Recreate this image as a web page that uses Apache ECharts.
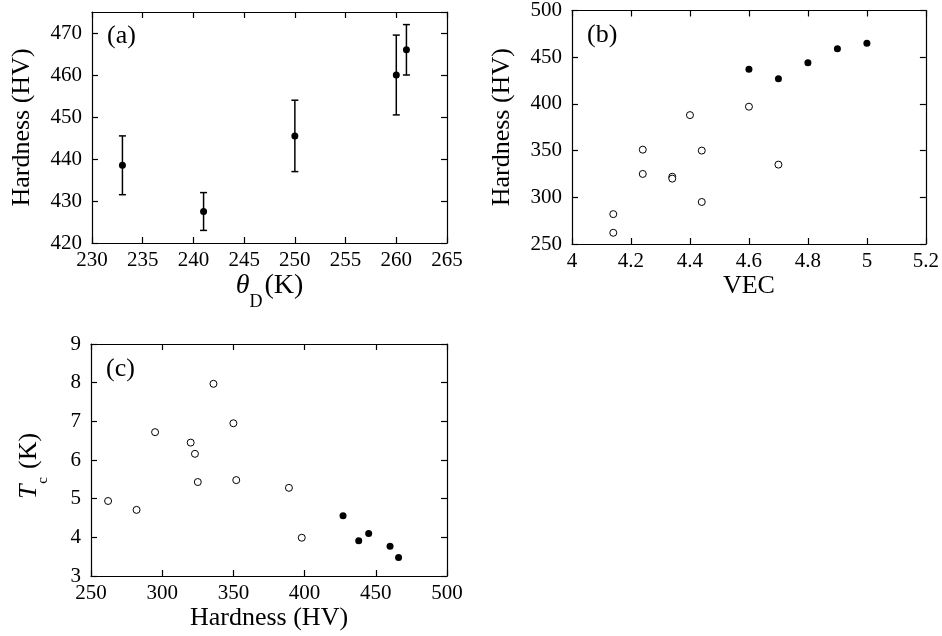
<!DOCTYPE html>
<html>
<head>
<meta charset="utf-8">
<script src="https://cdn.jsdelivr.net/npm/echarts@6.0.0/dist/echarts.min.js"></script>
<style>
  html, body { margin: 0; padding: 0; background: #fff; }
  #root { width: 942px; height: 636px; }
</style>
</head>
<body>
<div id="root"></div>
<script>
// (a) hardness vs Debye temperature, with error bars
const thetaD = [233, 241, 250, 260, 261]
const hardnessA = [438.5, 427.5, 445.5, 460, 466]
const errLow = [431.5, 423, 437, 450.5, 460]
const errHigh = [445.5, 432, 454, 469.5, 472]

// (b) hardness vs VEC
const vecOpen = [4.14, 4.14, 4.24, 4.24, 4.34, 4.34, 4.40, 4.44, 4.44, 4.60, 4.70]
const hvOpen = [282, 262, 351, 325, 322, 320, 388, 350, 295, 397, 335]
const vecFilled = [4.6, 4.7, 4.8, 4.9, 5.0]
const hvFilled = [437, 427, 444, 459, 465]

// (c) Tc vs hardness
const hvOpenC = [262, 282, 295, 320, 323, 325, 336, 350, 352, 389, 398]
const tcOpen = [4.94, 4.71, 6.72, 6.45, 6.16, 5.43, 7.97, 6.95, 5.48, 5.28, 3.99]
const hvFilledC = [427, 438, 445, 460, 466]
const tcFilled = [4.56, 3.91, 4.10, 3.77, 3.48]

const FONT = "'Liberation Serif', 'Times New Roman', serif"
const zip = (a, b) => a.map((v, i) => [v, b[i]])

const chart = echarts.init(document.getElementById('root'), null, { renderer: 'canvas' })

const frameAxis = (type, gridIndex, position, range, showLabels, extra) => {
  return Object.assign({
    type: 'value',
    gridIndex,
    position,
    min: range[0],
    max: range[1],
    interval: range[2],
    splitLine: { show: false },
    axisLine: { show: true, onZero: false, lineStyle: { color: '#000', width: 1.2 } },
    axisTick: { show: true, inside: true, length: 6, lineStyle: { color: '#000', width: 1.2 } },
    axisLabel: {
      show: showLabels,
      color: '#000',
      fontFamily: FONT,
      fontSize: 21,
      margin: type === 'x' ? 7 : 10,
      showMaxLabel: range[3] !== false
    }
  }, extra || {})
}

const grids = [
  { left: 92, top: 12, width: 355, height: 231 },
  { left: 572, top: 10, width: 355, height: 234 },
  { left: 91, top: 344, width: 356, height: 232 }
]

const xName = (text, gap, rich, size) => ({
  name: text,
  nameLocation: 'middle',
  nameGap: gap,
  nameTextStyle: { color: '#000', fontFamily: FONT, fontSize: size || 26, rich: rich || {} }
})
const yName = (text, gap, rich) => ({
  name: text,
  nameLocation: 'middle',
  nameGap: gap,
  nameRotate: 90,
  nameTextStyle: { color: '#000', fontFamily: FONT, fontSize: 26, rich: rich || {} }
})

// theta_D label: italic symbol with a low subscript
const richTheta = {
  it: { fontStyle: 'italic', fontFamily: FONT, fontSize: 28, lineHeight: 32, verticalAlign: 'top', color: '#000' },
  sub: { fontFamily: FONT, fontSize: 18, lineHeight: 18, verticalAlign: 'top', padding: [21, 0, 0, 0], color: '#000' },
  n: { fontFamily: FONT, fontSize: 28, lineHeight: 32, verticalAlign: 'top', padding: [0, 0, 0, 2], color: '#000' }
}
// T_c label
const richTc = {
  it: { fontStyle: 'italic', fontFamily: FONT, fontSize: 26, lineHeight: 30, verticalAlign: 'top', color: '#000' },
  sub: { fontFamily: FONT, fontSize: 15, lineHeight: 15, verticalAlign: 'top', padding: [20, 0, 0, 1], color: '#000' },
  n: { fontFamily: FONT, fontSize: 26, lineHeight: 30, verticalAlign: 'top', padding: [0, 12, 0, 8], color: '#000' }
}

const xAxes = [
  frameAxis('x', 0, 'bottom', [230, 265, 5], true, xName('{it|θ}{sub|D}{n|(K)}', 26, richTheta, 28)),
  frameAxis('x', 0, 'top', [230, 265, 5], false),
  frameAxis('x', 1, 'bottom', [4, 5.2, 0.2], true, xName('VEC', 26)),
  frameAxis('x', 1, 'top', [4, 5.2, 0.2], false),
  frameAxis('x', 2, 'bottom', [250, 500, 50], true, xName('Hardness (HV)', 24)),
  frameAxis('x', 2, 'top', [250, 500, 50], false)
]
xAxes[2].axisLabel.formatter = v => String(Math.round(v * 10) / 10)

const yAxes = [
  frameAxis('y', 0, 'left', [420, 475, 10, false], true, yName('Hardness (HV)', 57)),
  frameAxis('y', 0, 'right', [420, 475, 10, false], false),
  frameAxis('y', 1, 'left', [250, 500, 50], true, yName('Hardness (HV)', 57)),
  frameAxis('y', 1, 'right', [250, 500, 50], false),
  frameAxis('y', 2, 'left', [3, 9, 1], true, yName('{it|T}{sub|c}{n|(K)}', 45, richTc)),
  frameAxis('y', 2, 'right', [3, 9, 1], false)
]

const errorBars = {
  type: 'custom',
  xAxisIndex: 0,
  yAxisIndex: 0,
  data: thetaD.map((x, i) => [x, errLow[i], errHigh[i]]),
  renderItem: (params, api) => {
    const lo = api.coord([api.value(0), api.value(1)])
    const hi = api.coord([api.value(0), api.value(2)])
    const half = 3.5
    const style = { stroke: '#000', lineWidth: 1.5 }
    return {
      type: 'group',
      children: [
        { type: 'line', shape: { x1: lo[0], y1: lo[1], x2: hi[0], y2: hi[1] }, style },
        { type: 'line', shape: { x1: lo[0] - half, y1: lo[1], x2: lo[0] + half, y2: lo[1] }, style },
        { type: 'line', shape: { x1: hi[0] - half, y1: hi[1], x2: hi[0] + half, y2: hi[1] }, style }
      ]
    }
  },
  z: 2
}

const filled = (xi, yi, data) => ({
  type: 'scatter', xAxisIndex: xi, yAxisIndex: yi, data,
  symbol: 'circle', symbolSize: 7,
  itemStyle: { color: '#000', opacity: 1 }, z: 3
})
const open = (xi, yi, data) => ({
  type: 'scatter', xAxisIndex: xi, yAxisIndex: yi, data,
  symbol: 'circle', symbolSize: 7,
  itemStyle: { color: '#fff', borderColor: '#000', borderWidth: 1, opacity: 1 }, z: 3
})

const panelLabel = (text, left, top) => ({
  type: 'text', left, top,
  style: { text, font: '26px ' + FONT, fill: '#000' }
})

chart.setOption({
  animation: false,
  backgroundColor: '#fff',
  grid: grids,
  xAxis: xAxes,
  yAxis: yAxes,
  series: [
    errorBars,
    filled(0, 0, zip(thetaD, hardnessA)),
    open(2, 2, zip(vecOpen, hvOpen)),
    filled(2, 2, zip(vecFilled, hvFilled)),
    open(4, 4, zip(hvOpenC, tcOpen)),
    filled(4, 4, zip(hvFilledC, tcFilled))
  ],
  graphic: [
    panelLabel('(a)', 107, 23),
    panelLabel('(b)', 587, 22),
    panelLabel('(c)', 106, 356)
  ]
})
</script>
</body>
</html>
